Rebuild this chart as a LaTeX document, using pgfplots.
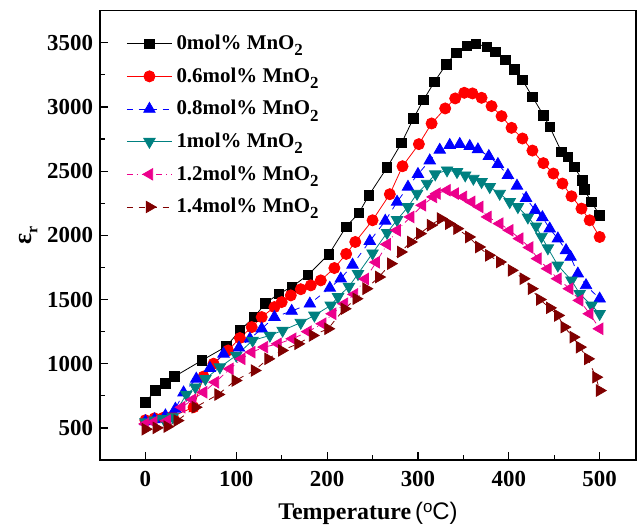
\documentclass[border=0pt]{standalone}
\usepackage{pgfplots}
\pgfplotsset{compat=1.18}
\usepackage{fontspec}
\setmainfont{Liberation Serif}
\newfontfamily\sansf{Liberation Sans}

\definecolor{cteal}{RGB}{0,128,128}
\definecolor{cbrown}{RGB}{128,0,0}
\newcommand{\sub}[1]{\raisebox{-0.65ex}{\fontsize{8.5}{8.5}\selectfont #1}}

\begin{document}
\begin{tikzpicture}
\begin{axis}[
  scale only axis,
  width=268bp, height=224.7bp,
  xmin=-50, xmax=540, ymin=250, ymax=3750,
  xtick={0,100,...,500}, minor x tick num=1,
  ytick={500,1000,...,3500}, minor y tick num=1,
  tick align=inside, tick pos=left,
  major tick length=4bp, minor tick length=2.5bp,
  axis line style={line width=0.8pt},
  tick style={black, line width=0.6pt},
  /pgf/number format/assume math mode=true,
  /pgf/number format/1000 sep={},
  ticklabel style={font=\bfseries\fontsize{11.5}{13}\selectfont},
  xticklabel style={yshift=-2bp},
  xlabel={\bfseries\fontsize{12}{14}\selectfont Temperature\,{\sansf\mdseries(\raisebox{0.55ex}{\fontsize{8.5}{8.5}\selectfont o}C)}},
  ylabel={\bfseries\fontsize{13}{14}\selectfont ε\raisebox{-0.5ex}{\fontsize{8}{8}\selectfont r}},
  xlabel style={yshift=-1bp},
  ylabel style={yshift=-2bp},
  legend style={draw=none, fill=none, at={(0,1)}, anchor=north west,
    xshift=10bp, yshift=-8bp, row sep=3.6pt,
    font=\bfseries\fontsize{10.5}{12}\selectfont},
  legend cell align=left,
  legend image code/.code={\draw[mark repeat=2,mark phase=2] plot coordinates {(0cm,0cm)(0.4cm,0cm)(0.8cm,0cm)};},
]
\addplot[black, thin, mark=square*, mark size=2.4pt, mark options={solid}] coordinates {
(0,700)(11,790)(22,848)(32,900)(62,1025)(89,1134)(104,1259)(120,1365)(132,1470)(147,1545)
(161,1597)(179,1692)(202,1853)(221,2067)(235,2174)(246,2312)(266,2528)(282,2720)(295,2910)
(306,3053)(318,3194)(331,3331)(342,3422)(354,3474)(364,3490)(376,3469)(385,3430)(396,3365)
(406,3292)(415,3209)(426,3079)(438,2936)(445,2845)(458,2650)(465,2611)(472,2533)(481,2429)
(483,2356)(491,2260)(500,2156)};
\addlegendentry{0mol\% MnO\sub{2}}
\addplot[red, thin, mark=*, mark size=2.8pt, mark options={solid}] coordinates {
(0,560)(10,575)(20,580)(30,590)(53,661)(64,900)(75,1000)(91,1103)(104,1200)(117,1285)
(128,1363)(142,1441)(150,1480)(160,1532)(171,1580)(182,1610)(193,1649)(208,1745)(221,1855)
(231,1948)(250,2117)(269,2320)(283,2538)(301,2710)(315,2871)(330,2988)(341,3066)(351,3110)
(360,3105)(370,3071)(381,3006)(392,2928)(403,2837)(415,2754)(426,2660)(438,2562)(449,2481)
(459,2403)(469,2304)(480,2208)(489,2117)(500,1987)};
\addlegendentry{0.6mol\% MnO\sub{2}}
\addplot[blue, thin, dashed, mark=triangle*, mark size=3.3pt, mark options={solid}] coordinates {
(0,550)(10,565)(22,596)(33,648)(42,775)(56,882)(71,965)(86,1077)(103,1124)(115,1194)
(128,1272)(142,1363)(161,1410)(181,1467)(203,1590)(215,1662)(228,1770)(247,1955)(264,2112)
(277,2260)(289,2377)(300,2476)(313,2582)(324,2665)(335,2702)(346,2710)(357,2694)(366,2668)
(378,2616)(388,2554)(399,2468)(409,2385)(419,2290)(429,2195)(437,2140)(445,2052)(454,1974)
(463,1883)(468,1831)(476,1701)(485,1610)(500,1506)};
\addlegendentry{0.8mol\% MnO\sub{2}}
\addplot[cteal, thin, mark=triangle*, mark size=3.3pt, mark options={solid, rotate=180}] coordinates {
(0,545)(10,560)(20,570)(30,585)(45,760)(55,817)(66,882)(82,973)(100,1064)(118,1181)
(137,1220)(151,1259)(171,1320)(186,1376)(204,1454)(212,1520)(224,1600)(234,1700)(250,1860)
(266,2020)(277,2120)(289,2221)(299,2325)(310,2403)(319,2476)(332,2507)(343,2494)(352,2468)
(361,2442)(370,2416)(379,2377)(390,2325)(401,2260)(410,2221)(421,2140)(430,2070)(436,1990)
(443,1900)(454,1766)(469,1649)(478,1545)(491,1454)(500,1389)};
\addlegendentry{1mol\% MnO\sub{2}}
\addplot[magenta, thin, dashdotted, mark=triangle*, mark size=3.3pt, mark options={solid, rotate=90}] coordinates {
(0,531)(9,544)(24,557)(40,661)(52,720)(64,778)(77,856)(93,960)(106,1038)(117,1090)
(131,1129)(146,1155)(162,1194)(179,1250)(195,1311)(206,1389)(219,1467)(230,1540)(242,1660)
(254,1790)(266,1930)(277,2039)(292,2143)(305,2234)(317,2299)(321,2325)(332,2351)(341,2325)
(350,2299)(359,2260)(368,2221)(377,2143)(390,2091)(401,2039)(412,1974)(423,1905)(432,1818)
(443,1740)(454,1662)(467,1584)(478,1493)(489,1389)(500,1272)};
\addlegendentry{1.2mol\% MnO\sub{2}}
\addplot[cbrown, thin, dashed, mark=triangle*, mark size=3.3pt, mark options={solid, rotate=-90}] coordinates {
(0,490)(12,500)(24,510)(35,557)(55,661)(80,760)(99,869)(120,947)(135,1038)(150,1103)
(168,1155)(184,1220)(201,1272)(219,1428)(232,1506)(243,1584)(257,1675)(270,1779)(281,1870)
(292,1948)(302,2013)(314,2078)(325,2130)(334,2091)(343,2052)(356,1987)(367,1909)(378,1844)
(390,1792)(403,1727)(416,1662)(425,1584)(434,1500)(445,1435)(454,1376)(461,1285)(471,1207)
(478,1129)(487,1038)(496,895)(500,791)};
\addlegendentry{1.4mol\% MnO\sub{2}}
\end{axis}
\path ([xshift=-50bp,yshift=-36bp]current axis.south west) rectangle ([xshift=2.5bp,yshift=5.3bp]current axis.north east);
\end{tikzpicture}
\end{document}
